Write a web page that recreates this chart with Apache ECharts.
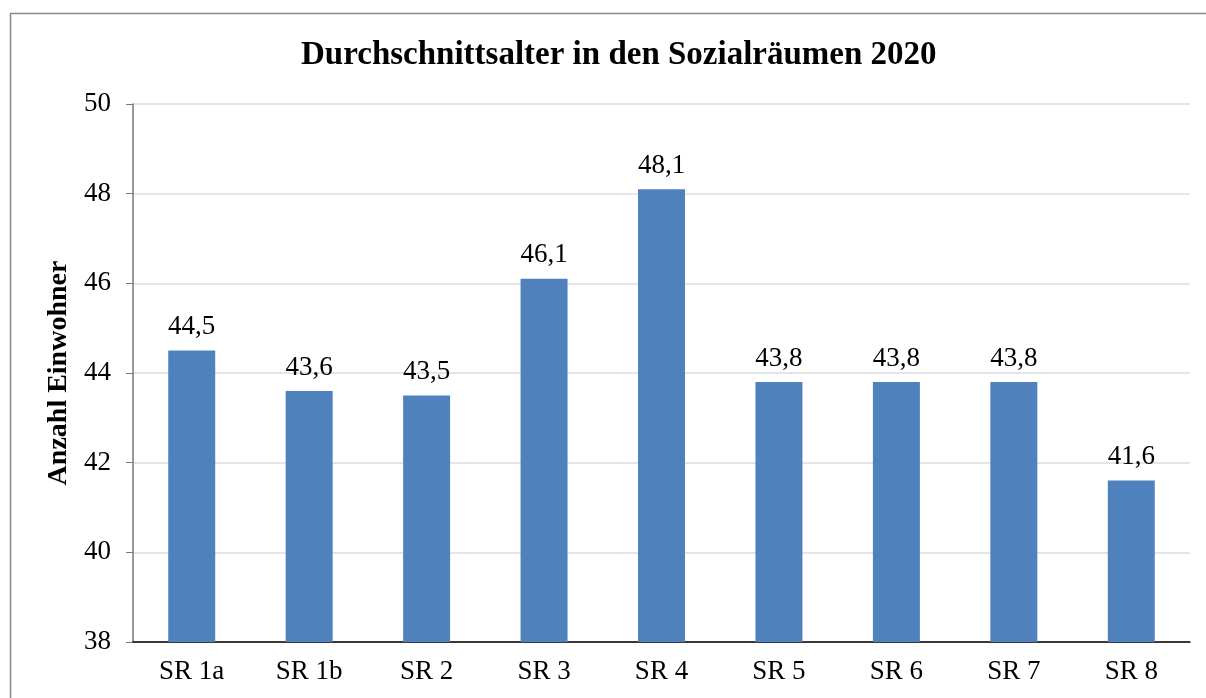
<!DOCTYPE html>
<html>
<head>
<meta charset="utf-8">
<script src="https://cdn.jsdelivr.net/npm/echarts@6/dist/echarts.min.js"></script>
<style>
	html, body { margin: 0; padding: 0; background: #fff; }
	#chart { width: 1206px; height: 698px; }
</style>
</head>
<body>
<div id="chart"></div>
<script>
	// Durchschnittsalter je Sozialraum
	const categories = ['SR 1a', 'SR 1b', 'SR 2', 'SR 3', 'SR 4', 'SR 5', 'SR 6', 'SR 7', 'SR 8'];
	const ages = [44.5, 43.6, 43.5, 46.1, 48.1, 43.8, 43.8, 43.8, 41.6];
	const yTicks = [38, 40, 42, 44, 46, 48, 50];

	const serif = '"Liberation Serif", "DejaVu Serif", serif';
	const chart = echarts.init(document.getElementById('chart'));

	const option = {
		animation: false,
		backgroundColor: '#fff',
		textStyle: { fontFamily: serif, color: '#000' },
		title: {
			text: 'Durchschnittsalter in den Sozialräumen 2020',
			left: 296,
			top: 34,
			textStyle: { fontFamily: serif, fontWeight: 'bold', fontSize: 33, color: '#000' }
		},
		graphic: [{
			type: 'rect',
			shape: { x: 10.5, y: 13.5, width: 1400, height: 900 },
			style: { fill: 'none', stroke: '#888', lineWidth: 1.5 },
			silent: true
		}],
		grid: { left: 133, right: 16, top: 104, bottom: 56 },
		xAxis: {
			type: 'category',
			data: categories,
			axisLine: { lineStyle: { color: '#000', width: 1.5 } },
			axisTick: { alignWithLabel: true, length: 7, lineStyle: { color: '#444' } },
			axisLabel: { fontFamily: serif, fontSize: 27, color: '#000', margin: 16 }
		},
		yAxis: {
			type: 'value',
			min: yTicks[0],
			max: yTicks[yTicks.length - 1],
			interval: 2,
			name: 'Anzahl Einwohner',
			nameLocation: 'middle',
			nameGap: 53,
			nameRotate: 90,
			nameTextStyle: { fontFamily: serif, fontWeight: 'bold', fontSize: 28, color: '#000' },
			axisLine: { show: true, lineStyle: { color: '#777', width: 1.5 } },
			axisTick: { show: true, length: 7, lineStyle: { color: '#777' } },
			axisLabel: { fontFamily: serif, fontSize: 27, color: '#000', margin: 22 },
			splitLine: { lineStyle: { color: '#dcdcdc', width: 1.5 } }
		},
		series: [{
			type: 'bar',
			data: ages,
			barWidth: '40%',
			itemStyle: { color: '#4F81BD' },
			label: {
				show: true,
				position: 'top',
				distance: 10,
				fontFamily: serif,
				fontSize: 27,
				color: '#000',
				formatter: p => p.value.toFixed(1).replace('.', ',')
			}
		}]
	};

	chart.setOption(option);
</script>
</body>
</html>
